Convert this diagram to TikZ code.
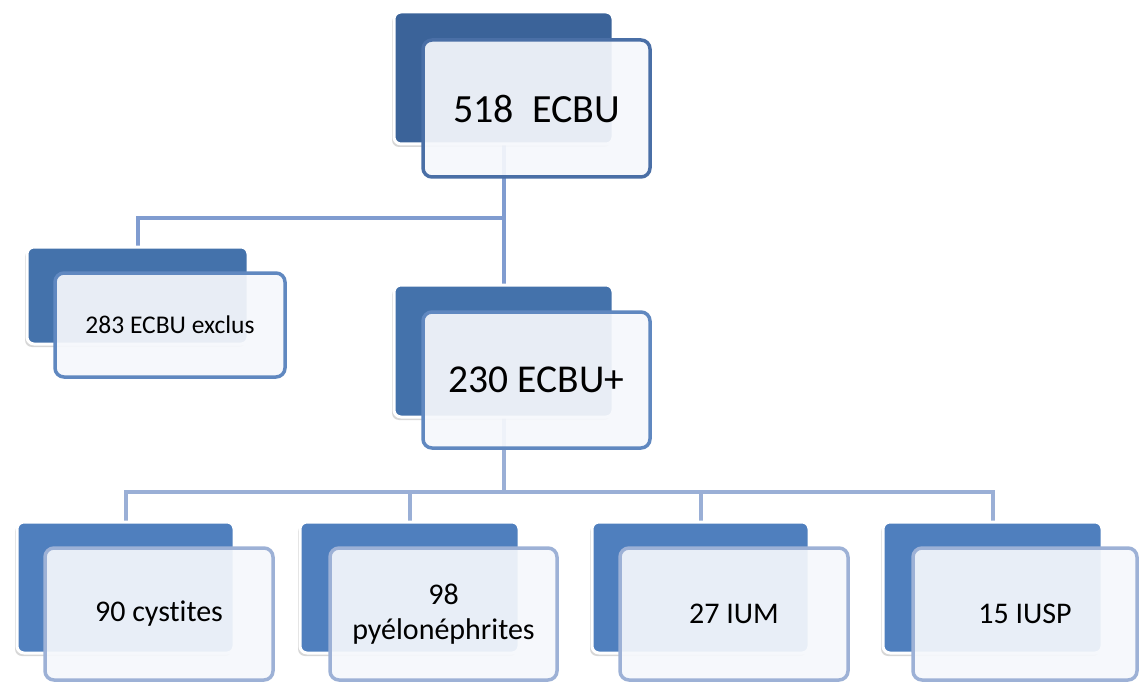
\documentclass[tikz,border=0pt]{standalone}
\usepackage{fontspec}
\setmainfont{Carlito}[Ligatures={NoCommon,NoRare}]
\usetikzlibrary{shadows}
\pgfdeclarelayer{bg}
\pgfsetlayers{bg,main}
\definecolor{backA}{HTML}{3B6399}
\definecolor{backB}{HTML}{4472AB}
\definecolor{backC}{HTML}{4F7FBE}
\definecolor{edgeA}{HTML}{4A6FA6}
\definecolor{edgeB}{HTML}{6088C0}
\definecolor{edgeC}{HTML}{9DB1D6}
\definecolor{frontfill}{HTML}{F6F8FC}
\definecolor{connA}{HTML}{809CD0}
\definecolor{connB}{HTML}{9AAFD6}
\tikzset{
  backbox/.style={draw=white, line width=3pt, rounded corners=7pt, anchor=north west,
    inner sep=0pt, outer sep=0pt,
    drop shadow={shadow xshift=-2pt, shadow yshift=-3pt, opacity=0.22, fill=black!70}},
  frontbox/.style={line width=3.5pt, rounded corners=9pt, anchor=north west, inner sep=0pt,
    outer sep=0pt, fill=frontfill, fill opacity=0.92, text opacity=1, text=black, align=center},
  connline/.style={line width=4pt},
}
\begin{document}
\begin{tikzpicture}[x=1pt, y=-1pt]
\useasboundingbox (0,0) rectangle (1141,682);
% back boxes
\node[backbox, fill=backA, minimum width=219pt, minimum height=132pt] (b518) at (394,12) {};
\node[backbox, fill=backB, minimum width=221pt, minimum height=97pt] (bex) at (27,247) {};
\node[backbox, fill=backB, minimum width=219pt, minimum height=132pt] (b230) at (394,285) {};
\node[backbox, fill=backC, minimum width=217pt, minimum height=131pt] (bcy) at (17,522) {};
\node[backbox, fill=backC, minimum width=219pt, minimum height=131pt] (bpy) at (300,522) {};
\node[backbox, fill=backC, minimum width=217pt, minimum height=131pt] (bium) at (592,522) {};
\node[backbox, fill=backC, minimum width=219pt, minimum height=131pt] (biusp) at (883,522) {};
% front boxes
\node[frontbox, draw=edgeA, minimum width=227pt, minimum height=137pt, font=\fontsize{40}{46}\selectfont] (f518) at (423,40) {518~~ECBU};
\node[frontbox, draw=edgeB, minimum width=230pt, minimum height=104pt, font=\fontsize{25.5}{30}\selectfont] (fex) at (55,273) {283 ECBU exclus};
\node[frontbox, draw=edgeB, minimum width=227pt, minimum height=136pt, font=\fontsize{39.5}{46}\selectfont] (f230) at (423,312) {230 ECBU+};
\node[frontbox, draw=edgeC, minimum width=228pt, minimum height=132pt, font=\fontsize{30}{35}\selectfont] (fcy) at (45,548) {90 cystites};
\node[frontbox, draw=edgeC, minimum width=227pt, minimum height=132pt, font=\fontsize{30}{35}\selectfont] (fpy) at (330,548) {98\\pyélonéphrites};
\node[frontbox, draw=edgeC, minimum width=228pt, minimum height=132pt, font=\fontsize{30}{35}\selectfont] (fium) at (620,548) {27 IUM};
\node[frontbox, draw=edgeC, minimum width=224pt, minimum height=132pt, font=\fontsize{30}{35}\selectfont] (fiusp) at (913,548) {15 IUSP};
% connectors
\coordinate (j1) at (503.5,218);
\coordinate (j2) at (503.5,492);
\begin{pgfonlayer}{bg}
\fill[white] (0,0) rectangle (1141,682);
\draw[connline, draw=connA] (b518.south) -- (b230.north);
\draw[connline, draw=connA] (j1) -| (bex.north);
\draw[connline, draw=connB] (b230.south) -- (j2);
\draw[connline, draw=connB] (j2) -| (bcy.north);
\draw[connline, draw=connB] (j2) -| (bpy.north);
\draw[connline, draw=connB] (j2) -| (bium.north);
\draw[connline, draw=connB] (j2) -| (biusp.north);
\end{pgfonlayer}
\end{tikzpicture}
\end{document}
